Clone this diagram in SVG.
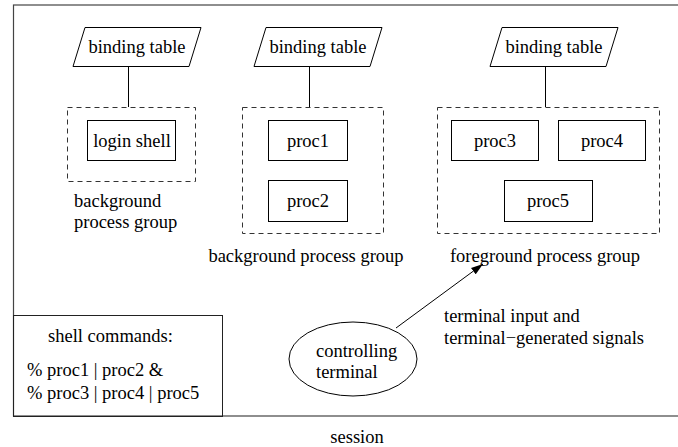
<svg xmlns="http://www.w3.org/2000/svg" width="678" height="447" viewBox="0 0 678 447" font-family="'Liberation Serif', Tinos, 'Nimbus Roman', Times, 'DejaVu Serif', serif">
<style>
text{font-family:'Liberation Serif', Tinos, 'Nimbus Roman', Times, 'DejaVu Serif', serif;font-size:18.5px;fill:#000}
.c{text-anchor:middle}
.box{fill:none;stroke:#000;stroke-width:1}
.grp{fill:none;stroke:#333;stroke-width:1;stroke-dasharray:5,4}
.par{fill:#fff;stroke:#000;stroke-width:1}
.ln{stroke:#000;stroke-width:1;fill:none}
</style>
<defs>
<marker id="ah" viewBox="0 0 12 8" refX="12" refY="4" markerWidth="12" markerHeight="8" markerUnits="userSpaceOnUse" orient="auto">
<path d="M0,0 L12,4 L0,8 z" fill="#000"/>
</marker>
</defs>
<g id="session">
<rect x="13.5" y="5" width="700" height="411" fill="none" stroke="#444" stroke-width="1.2"/>
<text class="c" x="357" y="443">session</text>
</g>
<g id="connectors">
<line class="ln" x1="128.5" y1="66" x2="128.5" y2="107"/>
<line class="ln" x1="309.5" y1="66" x2="309.5" y2="107"/>
<line class="ln" x1="545.5" y1="66" x2="545.5" y2="107"/>
<line class="ln" x1="396" y1="328" x2="483" y2="264" marker-end="url(#ah)"/>
</g>
<g id="bt1">
<polygon class="par" points="85,27.5 201,27.5 189,66.5 73,66.5"/>
<text class="c" x="137" y="53">binding table</text>
</g>
<g id="bt2">
<polygon class="par" points="266,27.5 382,27.5 370,66.5 254,66.5"/>
<text class="c" x="318" y="53">binding table</text>
</g>
<g id="bt3">
<polygon class="par" points="502,27.5 618,27.5 606,66.5 490,66.5"/>
<text class="c" x="554" y="53">binding table</text>
</g>
<g id="grp1">
<rect class="grp" x="67.5" y="107.5" width="128" height="74"/>
<text x="74" y="207">background</text>
<text x="74" y="228">process group</text>
</g>
<g id="login">
<rect class="box" x="87.5" y="120.5" width="88" height="40"/>
<text class="c" x="132" y="147">login shell</text>
</g>
<g id="grp2">
<rect class="grp" x="242.5" y="107.5" width="141" height="126"/>
<text class="c" x="306" y="262">background process group</text>
</g>
<g id="proc1">
<rect class="box" x="268.5" y="120.5" width="79" height="40"/>
<text class="c" x="308" y="147">proc1</text>
</g>
<g id="proc2">
<rect class="box" x="268.5" y="180.5" width="79" height="41"/>
<text class="c" x="308" y="207">proc2</text>
</g>
<g id="grp3">
<rect class="grp" x="437.5" y="107.5" width="222" height="126"/>
<text class="c" x="545" y="262">foreground process group</text>
</g>
<g id="proc3">
<rect class="box" x="451.5" y="120.5" width="87" height="40"/>
<text class="c" x="495" y="147">proc3</text>
</g>
<g id="proc4">
<rect class="box" x="558.5" y="120.5" width="87" height="40"/>
<text class="c" x="602" y="147">proc4</text>
</g>
<g id="proc5">
<rect class="box" x="504.5" y="180.5" width="88" height="41"/>
<text class="c" x="548" y="207">proc5</text>
</g>
<g id="terminal">
<ellipse cx="353" cy="359" rx="64" ry="37" fill="none" stroke="#000" stroke-width="1"/>
<text x="316" y="357">controlling</text>
<text x="316" y="378">terminal</text>
</g>
<g id="signals">
<text x="444" y="322">terminal input and</text>
<text x="444" y="344">terminal−generated signals</text>
</g>
<g id="shell">
<rect x="13.5" y="315.5" width="209" height="101" fill="none" stroke="#222" stroke-width="1"/>
<text x="48" y="342">shell commands:</text>
<text x="27" y="376">% proc1 | proc2 &amp;</text>
<text x="27" y="399">% proc3 | proc4 | proc5</text>
</g>
</svg>
